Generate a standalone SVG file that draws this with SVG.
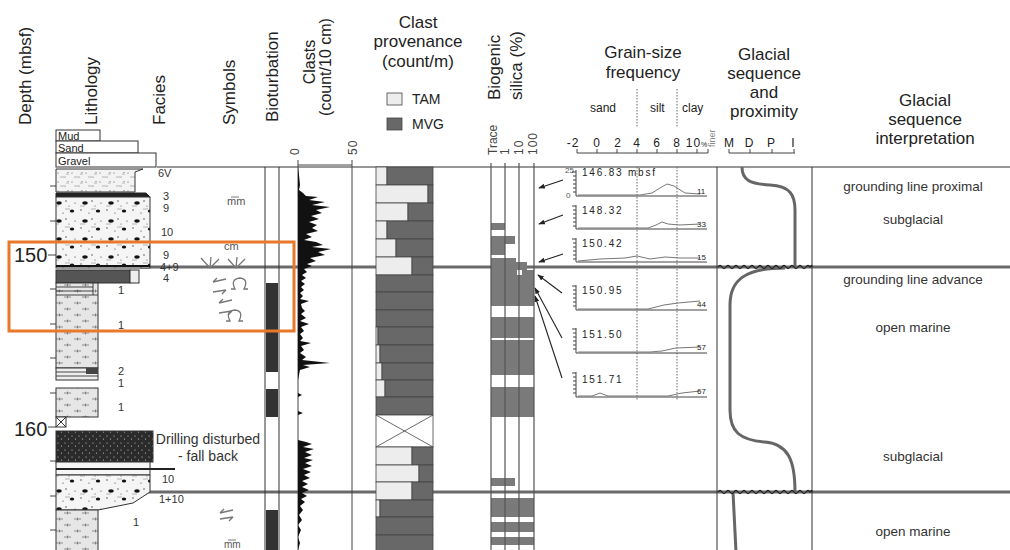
<svg xmlns="http://www.w3.org/2000/svg" width="1010" height="550" viewBox="0 0 1010 550">
<style>
text{font-family:"Liberation Sans",Arial,sans-serif;fill:#222}
.h{font-size:17px}
.h2{font-size:16px}
.f{font-size:11px;fill:#333}
.i{font-size:13.5px;fill:#333}
.sc{font-size:12px;fill:#444;letter-spacing:1px}
.pl{font-size:10px;fill:#444;letter-spacing:1.8px}
.end{font-size:8px;fill:#666}
.ln{stroke:#333;stroke-width:1;fill:none}
.thick{stroke:#6a6a6a;stroke-width:3;fill:none}
.light{fill:#ededed;stroke:#444;stroke-width:0.8}
.dark{fill:#686868;stroke:#444;stroke-width:0.8}
.si{fill:#7a7a7a}
.curve{stroke:#666;stroke-width:3;fill:none}
.sym{stroke:#777;stroke-width:1.3;fill:none}
.ax{stroke:#444;stroke-width:1;fill:none}
.dot{stroke:#666;stroke-width:1;stroke-dasharray:1.5 1.5;fill:none}
</style>
<defs>
<pattern id="sand" width="14" height="9" patternUnits="userSpaceOnUse">
<rect width="14" height="9" fill="#f3f3f3"/>
<circle cx="2" cy="2" r="0.6" fill="#555"/><circle cx="9" cy="6" r="0.6" fill="#555"/><circle cx="12" cy="1.5" r="0.5" fill="#555"/>
<path d="M4 6h4M10 3h3" stroke="#888" stroke-width="0.6"/>
</pattern>
<pattern id="diamict" width="26" height="18" patternUnits="userSpaceOnUse">
<rect width="26" height="18" fill="#f5f5f5"/>
<ellipse cx="7" cy="5" rx="2.8" ry="1.8" fill="#111"/><ellipse cx="20" cy="13" rx="2.2" ry="1.5" fill="#111"/>
<circle cx="14" cy="3" r="0.7" fill="#333"/><circle cx="3" cy="12" r="0.7" fill="#333"/><circle cx="23" cy="5" r="0.6" fill="#333"/><circle cx="11" cy="15" r="0.6" fill="#333"/><circle cx="17" cy="8" r="0.5" fill="#333"/>
<path d="M2 8h5M13 11h5" stroke="#888" stroke-width="0.6"/>
</pattern>
<pattern id="mud" width="18" height="12" patternUnits="userSpaceOnUse">
<rect width="18" height="12" fill="#e6e6e6"/>
<path d="M2 3h7M5.5 1.5v3M10 9h7M13.5 7.5v3" stroke="#666" stroke-width="0.7"/>
</pattern>
<pattern id="dist" width="7" height="7" patternUnits="userSpaceOnUse">
<rect width="7" height="7" fill="#2b2b2b"/>
<circle cx="2" cy="2" r="0.6" fill="#ccc"/><circle cx="5.5" cy="5" r="0.6" fill="#ccc"/>
</pattern>
<marker id="ah" viewBox="0 0 8 8" refX="7" refY="4" markerWidth="6" markerHeight="6" orient="auto">
<path d="M0 1L8 4L0 7z" fill="#222"/>
</marker>
</defs>
<rect width="1010" height="550" fill="#fff"/>

<g id="headers">
<text class="h" transform="rotate(-90 31 125)" x="31" y="125">Depth (mbsf)</text>
<text class="h" transform="rotate(-90 97 125)" x="97" y="125">Lithology</text>
<text class="h" transform="rotate(-90 165 125)" x="165" y="125">Facies</text>
<text class="h" transform="rotate(-90 235 125)" x="235" y="125">Symbols</text>
<text class="h" transform="rotate(-90 278 122)" x="278" y="122">Bioturbation</text>
<text class="h2" text-anchor="middle" transform="rotate(-90 315 62)" x="315" y="62">Clasts</text>
<text class="h2" text-anchor="middle" transform="rotate(-90 331 67)" x="331" y="67">(count/10 cm)</text>
<text class="h" text-anchor="middle" x="418" y="28">Clast</text>
<text class="h" text-anchor="middle" x="418" y="47">provenance</text>
<text class="h" text-anchor="middle" x="418" y="67">(count/m)</text>
<text class="h" transform="rotate(-90 500 100)" x="500" y="100">Biogenic</text>
<text class="h" transform="rotate(-90 522 100)" x="522" y="100">silica (%)</text>
<text class="h" text-anchor="middle" x="643" y="58">Grain-size</text>
<text class="h" text-anchor="middle" x="643" y="78">frequency</text>
<text class="h" text-anchor="middle" x="764" y="60">Glacial</text>
<text class="h" text-anchor="middle" x="764" y="79">sequence</text>
<text class="h" text-anchor="middle" x="764" y="98">and</text>
<text class="h" text-anchor="middle" x="764" y="117">proximity</text>
<text class="h" text-anchor="middle" x="925" y="106">Glacial</text>
<text class="h" text-anchor="middle" x="925" y="125">sequence</text>
<text class="h" text-anchor="middle" x="925" y="144">interpretation</text>
</g>

<g id="legend">
<rect x="387" y="93" width="15" height="12" class="light"/>
<text x="412" y="104" style="font-size:14px">TAM</text>
<rect x="387" y="118" width="15" height="12" class="dark"/>
<text x="412" y="129" style="font-size:14px">MVG</text>
</g>

<g id="connectors">
<line x1="157" y1="167" x2="1010" y2="167" class="ln"/>
<line x1="140" y1="267" x2="1010" y2="267" class="thick"/>
<line x1="148" y1="492" x2="1010" y2="492" class="thick"/>
<g marker-end="url(#ah)" stroke="#222" stroke-width="1.1">
<line x1="563" y1="180" x2="539" y2="188"/>
<line x1="563" y1="215" x2="539" y2="224"/>
<line x1="563" y1="254" x2="539" y2="262"/>
<line x1="562" y1="293" x2="538" y2="275"/>
<line x1="562" y1="338" x2="535" y2="288"/>
<line x1="562" y1="378" x2="535" y2="296"/>
</g>
</g>

<g id="depth-axis">
<path class="ax" d="M50 186h6M50 221h6M48 255h8M50 289h6M50 324h6M50 358h6M50 393h6M48 427h8M50 461h6M50 496h6M50 530h6"/>
<text x="14" y="262" style="font-size:20px">150</text>
<text x="14" y="436" style="font-size:20px">160</text>
</g>

<g id="lithology">
<rect x="56" y="130" width="44" height="11" fill="#fff" stroke="#333"/>
<rect x="56" y="141" width="82" height="12" fill="#fff" stroke="#333"/>
<rect x="56" y="153" width="100" height="14" fill="#fff" stroke="#333"/>
<text x="58" y="140" style="font-size:11px">Mud</text>
<text x="58" y="152" style="font-size:11px">Sand</text>
<text x="58" y="165" style="font-size:11px">Gravel</text>
<path d="M56 169H136L143 169L135 172V192H56Z" fill="url(#sand)" stroke="#333"/>
<path d="M56 193H146L150 197H56Z" fill="#222" stroke="#222"/>
<rect x="56" y="197" width="94" height="71" fill="url(#diamict)" stroke="#333"/>
<path d="M56 266H150" stroke="#111" stroke-width="2"/>
<rect x="56" y="270" width="74" height="13" fill="#555" stroke="#333"/>
<rect x="130" y="270" width="9" height="13" fill="#eee" stroke="#333"/>
<rect x="56" y="283" width="42" height="85" fill="url(#mud)" stroke="#333"/>
<path d="M56 287H93M56 291H93M56 295H98M93 283V295" stroke="#333" stroke-width="0.9"/>
<rect x="56" y="368" width="42" height="12" fill="#eee" stroke="#333"/>
<path d="M56 372H98M56 376H98" stroke="#333" stroke-width="0.9"/>
<rect x="86" y="368" width="12" height="6" fill="#444"/>
<rect x="56" y="388" width="42" height="29" fill="url(#mud)" stroke="#333"/>
<rect x="56" y="417" width="10" height="10" fill="#fff" stroke="#333"/>
<path d="M56 417L66 427M66 417L56 427" stroke="#333"/>
<rect x="56" y="431" width="97" height="31" fill="url(#dist)" stroke="#333"/>
<rect x="56" y="462" width="94" height="13" fill="#f6f6f6" stroke="#333"/>
<path d="M56 469H175" stroke="#222" stroke-width="2"/>
<path d="M56 475H150V492L133 503L98 510H56Z" fill="url(#diamict)" stroke="#333"/>
<rect x="56" y="510" width="42" height="42" fill="url(#mud)" stroke="#333"/>
</g>

<g id="facies">
<text class="f" x="158" y="177">6V</text>
<text class="f" x="163" y="200">3</text>
<text class="f" x="163" y="212">9</text>
<text class="f" x="161" y="236">10</text>
<text class="f" x="163" y="259">9</text>
<text class="f" x="160" y="271">4+9</text>
<text class="f" x="163" y="282">4</text>
<text class="f" x="118" y="294">1</text>
<text class="f" x="118" y="329">1</text>
<text class="f" x="118" y="375">2</text>
<text class="f" x="118" y="387">1</text>
<text class="f" x="118" y="411">1</text>
<text x="208" y="444" text-anchor="middle" style="font-size:14px;fill:#333">Drilling disturbed</text>
<text x="208" y="461" text-anchor="middle" style="font-size:14px;fill:#333">- fall back</text>
<text class="f" x="162" y="483">10</text>
<text class="f" x="159" y="503">1+10</text>
<text class="f" x="133" y="526">1</text>
</g>

<g id="symbols">
<text class="f" x="227" y="205" style="fill:#555">mm</text>
<path d="M231 197h8" stroke="#555" stroke-width="0.8"/>
<text class="f" x="224" y="250" style="fill:#555">cm</text>
<path class="sym" d="M210 268L201 258M210 268L211 257M210 268L219 259M236 268L228 259M236 268L237 257M236 268L245 259"/>
<path class="sym" d="M213 282L226 279M213 282L217 278M226 290L213 292M226 290L222 294"/>
<path class="sym" d="M231 289h4q-5-10 5-11q9 1 4 11h4"/>
<path class="sym" d="M219 303L232 300M219 303L223 299M232 311L219 313M232 311L228 315"/>
<path class="sym" d="M226 321h4q-5-10 5-11q9 1 4 11h4"/>
<path class="sym" d="M220 513L233 510M220 513L224 509M233 517L220 519M233 517L229 521"/>
<text x="224" y="548" style="font-size:10px;fill:#555">mm</text>
<path d="M228 540h8" stroke="#555" stroke-width="0.8"/>
</g>

<g id="bioturbation">
<line x1="265" y1="167" x2="265" y2="550" class="ln" stroke="#555"/>
<line x1="279" y1="167" x2="279" y2="550" class="ln" stroke="#555"/>
<rect x="266" y="283" width="12" height="89" fill="#333"/>
<rect x="266" y="389" width="12" height="28" fill="#333"/>
<rect x="266" y="510" width="12" height="40" fill="#333"/>
</g>

<g id="clasts">
<text class="sc" transform="rotate(-90 299 155)" x="299" y="155">0</text>
<text class="sc" transform="rotate(-90 357 155)" x="357" y="155">50</text>
<path class="ax" d="M298 165H352M298 160V550M352 160V550"/>
<polygon fill="#111" points="298,167 299,175 300,185 299,190 303,193 306,196 318,197 309,200 325,202 312,205 330,207 316,210 322,213 311,216 319,219 309,222 317,225 312,228 318,231 306,234 312,237 304,240 316,242 323,245 312,247 331,249 318,252 325,255 310,258 316,261 307,264 312,266 304,269 307,272 302,275 306,278 301,281 305,284 301,287 304,290 300,293 303,296 300,299 309,301 301,304 302,308 305,311 301,314 306,318 300,321 309,324 301,327 304,331 300,334 303,338 300,341 311,343 301,346 304,350 300,353 306,357 302,360 330,363 303,365 310,367 300,370 298,380 298,393 302,395 298,397 298,411 303,413 298,415 298,440 306,442 312,444 303,447 314,449 305,452 312,455 304,458 313,460 305,463 312,466 303,469 311,472 304,475 310,478 302,481 308,484 302,487 309,490 302,493 307,496 301,499 305,502 300,506 303,510 299,515 302,520 298,525 301,530 298,537 300,543 298,550"/>
</g>

<g id="provenance">
<rect class="light" x="376" y="167" width="11" height="18"/><rect class="dark" x="387" y="167" width="46" height="18"/>
<rect class="light" x="376" y="185" width="52" height="18"/><rect class="dark" x="428" y="185" width="5" height="18"/>
<rect class="light" x="376" y="203" width="32" height="18"/><rect class="dark" x="408" y="203" width="25" height="18"/>
<rect class="light" x="376" y="221" width="11" height="18"/><rect class="dark" x="387" y="221" width="46" height="18"/>
<rect class="light" x="376" y="239" width="20" height="18"/><rect class="dark" x="396" y="239" width="37" height="18"/>
<rect class="light" x="376" y="257" width="36" height="18"/><rect class="dark" x="412" y="257" width="21" height="18"/>
<rect class="dark" x="376" y="275" width="57" height="17"/>
<rect class="dark" x="376" y="292" width="57" height="18"/>
<rect class="dark" x="376" y="310" width="57" height="17"/>
<rect class="light" x="376" y="327" width="2" height="18"/><rect class="dark" x="378" y="327" width="55" height="18"/>
<rect class="light" x="376" y="345" width="4" height="18"/><rect class="dark" x="380" y="345" width="53" height="18"/>
<rect class="light" x="376" y="363" width="6" height="17"/><rect class="dark" x="382" y="363" width="51" height="17"/>
<rect class="light" x="376" y="380" width="9" height="17"/><rect class="dark" x="385" y="380" width="48" height="17"/>
<rect class="dark" x="376" y="397" width="57" height="18"/>
<rect x="376" y="415" width="57" height="32" fill="#fff" stroke="#444" stroke-width="0.8"/>
<path d="M376 415L433 447M433 415L376 447" stroke="#444" stroke-width="0.8"/>
<rect class="light" x="376" y="447" width="36" height="18"/><rect class="dark" x="412" y="447" width="21" height="18"/>
<rect class="light" x="376" y="465" width="43" height="17"/><rect class="dark" x="419" y="465" width="14" height="17"/>
<rect class="light" x="376" y="482" width="36" height="18"/><rect class="dark" x="412" y="482" width="21" height="18"/>
<rect class="light" x="376" y="500" width="4" height="17"/><rect class="dark" x="380" y="500" width="53" height="17"/>
<rect class="dark" x="376" y="517" width="57" height="18"/>
<rect class="dark" x="376" y="535" width="57" height="17"/>
</g>

<g id="silica">
<text class="sc" transform="rotate(-90 497 155)" x="497" y="155" style="letter-spacing:0">Trace</text>
<text class="sc" transform="rotate(-90 509 155)" x="509" y="155">1</text>
<text class="sc" transform="rotate(-90 523 155)" x="523" y="155">10</text>
<text class="sc" transform="rotate(-90 537 155)" x="537" y="155">100</text>
<rect class="si" x="491" y="223" width="14" height="7"/>
<rect class="si" x="491" y="236" width="24" height="8"/>
<rect class="si" x="491" y="244" width="14" height="11"/>
<rect class="si" x="491" y="258" width="25" height="4"/>
<rect class="si" x="491" y="262" width="36" height="8"/>
<rect class="si" x="491" y="270" width="43" height="36"/>
<rect x="517" y="270" width="5" height="5" fill="#fff"/>
<rect class="si" x="491" y="317" width="43" height="21"/>
<rect class="si" x="491" y="340" width="43" height="35"/>
<rect class="si" x="491" y="387" width="43" height="30"/>
<rect class="si" x="491" y="478" width="24" height="8"/>
<rect class="si" x="491" y="498" width="43" height="19"/>
<rect class="si" x="491" y="522" width="43" height="10"/>
<rect class="si" x="491" y="537" width="43" height="8"/>
<path d="M491 163V550M505 163V550M519 163V550M534 163V550" stroke="#555" stroke-width="1.2" fill="none"/>
</g>

<g id="grainsize">
<text x="590" y="112" style="font-size:12px">sand</text>
<text x="650" y="112" style="font-size:12px">silt</text>
<text x="682" y="112" style="font-size:12px">clay</text>
<path class="dot" d="M637 89V128M677 89V128M637 167V400M677 167V400"/>
<text class="sc" transform="rotate(-90 715 147)" x="715" y="147" style="font-size:9px;fill:#888;letter-spacing:0">finer</text>
<g class="sc" text-anchor="middle">
<text x="573" y="147">-2</text><text x="597" y="147">0</text><text x="618" y="147">2</text><text x="637" y="147">4</text><text x="657" y="147">6</text><text x="677" y="147">8</text><text x="697" y="147">10<tspan style="font-size:7px">%</tspan></text>
</g>
<path class="ax" d="M577 153H708M577 153V149M597 153V149M617 153V149M637 153V149M657 153V149M677 153V149M697 153V149M708 153V149"/>
<text x="565" y="173" style="font-size:8px;fill:#555">25</text>
<text x="566" y="198" style="font-size:8px;fill:#555">0</text>
<g class="ax">
<path d="M576 170V196H707M572 172h4M573 176h3M573 180h3M573 184h3M573 188h3M573 192h3"/>
<path d="M576 205V229H707M572 206h4M573 210h3M573 214h3M573 218h3M573 222h3M573 226h3"/>
<path d="M576 238V262H707M572 239h4M573 243h3M573 247h3M573 251h3M573 255h3M573 259h3"/>
<path d="M576 285V310H707M572 286h4M573 290h3M573 294h3M573 298h3M573 302h3M573 306h3"/>
<path d="M576 328V353H707M572 329h4M573 333h3M573 337h3M573 341h3M573 345h3M573 349h3"/>
<path d="M576 372V397H707M572 373h4M573 377h3M573 381h3M573 385h3M573 389h3M573 393h3"/>
</g>
<g stroke="#777" stroke-width="1" fill="none">
<path d="M578 195H640L652 193L660 188L667 184L674 186L685 193L700 194"/>
<path d="M578 228H648L656 225L662 222L668 224L680 225L700 224"/>
<path d="M578 261L600 259L625 258L637 256L650 259L665 257L680 258L700 258"/>
<path d="M578 309H648L656 307L664 305L678 303L700 301"/>
<path d="M578 352H650L662 351L676 348L700 347"/>
<path d="M578 396H592L600 393L608 396H668L682 393L700 391"/>
</g>
<g class="pl">
<text x="582" y="176">146.83 mbsf</text>
<text x="582" y="214">148.32</text>
<text x="582" y="247">150.42</text>
<text x="582" y="294">150.95</text>
<text x="582" y="338">151.50</text>
<text x="582" y="383">151.71</text>
</g>
<g class="end">
<text x="697" y="194">11</text>
<text x="697" y="227">33</text>
<text x="697" y="260">15</text>
<text x="697" y="307">44</text>
<text x="697" y="350">57</text>
<text x="697" y="394">67</text>
</g>
</g>

<g id="proximity">
<g class="sc" text-anchor="middle" style="letter-spacing:0">
<text x="729" y="147">M</text><text x="749" y="147">D</text><text x="771" y="147">P</text><text x="793" y="147">I</text>
</g>
<path class="ax" d="M729 153H795M729 153V149M750 153V149M772 153V149M794 153V149"/>
<path class="ln" d="M717 167V550M812 167V550"/>
<path class="curve" d="M742 167C742 180 750 184 770 185C790 186 795 195 795 210V267"/>
<path class="curve" d="M785 268C745 268 730 280 730 305V410C730 432 740 440 765 442C788 444 795 460 795 492"/>
<path class="curve" d="M733 492L736 552"/>
<path stroke="#222" stroke-width="1.3" fill="none" d="M718 267q2 -3 4 0t4 0t4 0t4 0t4 0t4 0t4 0t4 0t4 0t4 0t4 0t4 0t4 0t4 0t4 0t4 0t4 0t4 0t4 0t4 0t4 0t4 0t4 0q2 -3 2 0"/>
<path stroke="#222" stroke-width="1.3" fill="none" d="M718 492q2 -3 4 0t4 0t4 0t4 0t4 0t4 0t4 0t4 0t4 0t4 0t4 0t4 0t4 0t4 0t4 0t4 0t4 0t4 0t4 0t4 0t4 0t4 0t4 0q2 -3 2 0"/>
</g>

<g id="interpretation">
<text class="i" text-anchor="middle" x="913" y="191">grounding line proximal</text>
<text class="i" text-anchor="middle" x="913" y="224">subglacial</text>
<text class="i" text-anchor="middle" x="913" y="284">grounding line advance</text>
<text class="i" text-anchor="middle" x="913" y="332">open marine</text>
<text class="i" text-anchor="middle" x="913" y="461">subglacial</text>
<text class="i" text-anchor="middle" x="913" y="536">open marine</text>
</g>

<rect id="highlight" x="9" y="242" width="285" height="89" fill="none" stroke="#e8792a" stroke-width="3"/>
</svg>
